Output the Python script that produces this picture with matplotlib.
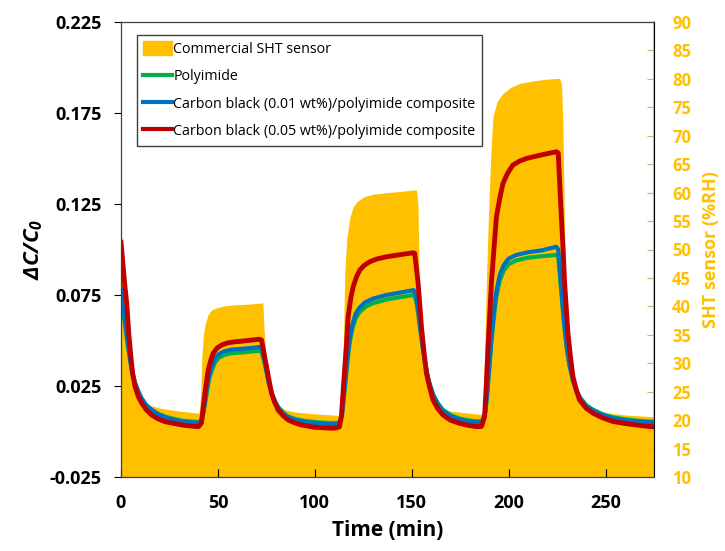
import matplotlib
matplotlib.use("Agg")
import matplotlib.pyplot as plt
from matplotlib.patches import Patch
from matplotlib.lines import Line2D

plt.rcParams["font.family"] = ["Open Sans", "DejaVu Sans"]
plt.rcParams["mathtext.fontset"] = "custom"
plt.rcParams["mathtext.bfit"] = "Open Sans:italic:bold"
plt.rcParams["mathtext.it"] = "Open Sans:italic"
plt.rcParams["mathtext.rm"] = "Open Sans"

# commercial SHT sensor (%RH), right axis
sht_time = [0, 0.5, 1.5, 2.5, 3.5, 5, 7, 10, 15, 20, 30, 40.3,
            41, 41.7, 42.5, 43.5, 45, 46.8, 50, 53.6, 60, 66, 72.5,
            73.2, 73.8, 74.6, 75.8, 77, 78.5, 80.5, 85, 90, 100, 113.5,
            114.2, 114.8, 115.5, 116.5, 118, 119.8, 122, 125.6, 130, 137, 143.8, 152.4,
            153.2, 153.6, 154.1, 155.5, 157, 158.5, 160, 162, 165, 170, 180, 186.2,
            186.7, 187.5, 188.5, 189.3, 190.2, 191, 191.9, 194, 197, 201, 205.7, 212, 218, 226.3,
            227.3, 228, 228.6, 229.2, 230, 231, 232.5, 234, 236, 239, 243, 250, 260, 275]
sht_rh = [55, 50, 42, 36, 32, 28, 25.5, 23.8, 22.6, 22.1, 21.6, 21.2,
          24, 31, 35, 37, 38.6, 39.4, 39.8, 40.1, 40.3, 40.4, 40.6,
          40.6, 36, 32, 28, 25.5, 23.8, 22.6, 21.8, 21.4, 21.1, 20.8,
          23, 35, 46, 52, 55.5, 57.5, 58.5, 59.3, 59.7, 60, 60.2, 60.5,
          58, 50, 38, 35, 30.5, 27, 24.8, 23, 22, 21.6, 21.2, 21.0,
          22.5, 30, 44, 53, 61.7, 68, 73.3, 76, 77.4, 78.5, 79.2, 79.6, 79.9, 80.1,
          79, 72, 58, 46.4, 40, 35, 30, 27, 24.5, 23, 22, 21.3, 20.9, 20.6]

# carbon black (0.05 wt%)/polyimide composite
red_time = [0, 1, 2, 3, 4, 5, 6, 7.2, 9, 10.7, 13, 15.8, 19, 22.7, 27, 31.3, 36, 40,
            41.5, 42.3, 43.3, 44.2, 45, 46.3, 47.6, 49.5, 51.9, 55, 58.8, 64, 68, 70.8, 72.5,
            73.8, 75.1, 76.4, 77.7, 79.3, 81.1, 83.5, 86.3, 89.5, 93.1, 100, 105, 110,
            112.7, 113.7, 114.6, 115.5, 116.4, 117.2, 118.5, 119.8, 121.5, 123.2, 125.5, 128.4,
            132, 137, 143, 150.7, 151.5,
            152.4, 153.3, 154.2, 155, 156.3, 157.6, 159.3, 161, 163.5, 166.1, 170, 174.7, 179, 183.3, 186,
            187.6, 188.5, 189.3, 190.2, 191.1, 192.4, 193.7, 195.4, 197.1, 199.5, 202.2, 205.5,
            209.1, 215, 220, 224.6, 225.6,
            226.4, 227.2, 228.1, 228.9, 229.8, 230.6, 231.9, 233.2, 234.9, 236.6, 240, 243.5,
            248.5, 253.8, 260, 265.8, 270, 275]
red_dc = [0.104, 0.092, 0.080, 0.070, 0.054, 0.042, 0.032, 0.025, 0.019, 0.0156, 0.012, 0.0091,
          0.007, 0.0054, 0.0045, 0.0036, 0.003, 0.0027,
          0.0047, 0.012, 0.021, 0.028, 0.0338, 0.039, 0.043, 0.0458, 0.0475, 0.0487, 0.0493,
          0.0498, 0.0503, 0.0507, 0.0503,
          0.043, 0.0356, 0.028, 0.021, 0.016, 0.0118, 0.0088, 0.0063, 0.0048, 0.0036, 0.0023,
          0.002, 0.0018,
          0.0025, 0.0082, 0.022, 0.0356, 0.049, 0.063, 0.073, 0.0796, 0.085, 0.0887, 0.0913, 0.0933,
          0.0948, 0.096, 0.097, 0.0982, 0.098,
          0.090, 0.0814, 0.069, 0.0576, 0.044, 0.032, 0.024, 0.0173, 0.0125, 0.0091, 0.0062, 0.0045,
          0.0034, 0.0027, 0.0028,
          0.0082, 0.026, 0.0448, 0.063, 0.0814, 0.100, 0.118, 0.128, 0.1364, 0.142, 0.1464, 0.1485,
          0.150, 0.1515, 0.1527, 0.1537, 0.153,
          0.135, 0.118, 0.100, 0.0814, 0.067, 0.054, 0.041, 0.030, 0.023, 0.0173, 0.0128, 0.0101,
          0.0075, 0.0055, 0.0044, 0.0036, 0.003, 0.0026]

# polyimide and carbon black (0.01 wt%) share one time base
pi_time = [0, 1, 2, 3, 4, 5, 6, 7.2, 9, 10.7, 13, 15.8, 19, 22.7, 27, 31.3, 36, 40,
           41.5, 42.5, 43.5, 44.5, 45.5, 47, 48.5, 50.5, 53, 57, 63, 68, 72.3,
           73.5, 74.8, 76.2, 77.7, 79.3, 81.1, 83.5, 86.3, 90, 95, 100, 105, 110,
           112.8, 114, 115, 116, 117, 118, 119.5, 121, 123, 126, 130, 137, 145, 151,
           152.3, 153.3, 154.3, 155.5, 157, 158.7, 161, 163.5, 166, 170, 175, 180, 184,
           186.5, 188, 189, 190, 191, 192.2, 193.5, 195.4, 197.5, 200, 204, 210, 217, 224.6,
           225.6, 226.5, 227.4, 228.3, 229.2, 230.2, 231.5, 233.2, 235, 237, 240, 243.5,
           248.5, 253.8, 260, 266, 270, 275]
cb01_dc = [0.078, 0.070, 0.062, 0.053, 0.045, 0.038, 0.032, 0.027, 0.022, 0.018, 0.0145, 0.0118,
           0.0095, 0.0078, 0.0065, 0.0055, 0.005, 0.0047,
           0.006, 0.011, 0.018, 0.025, 0.031, 0.036, 0.040, 0.0425, 0.044, 0.045, 0.0455, 0.046, 0.0466,
           0.042, 0.035, 0.027, 0.021, 0.0165, 0.013, 0.010, 0.0078, 0.0063, 0.0052, 0.0046, 0.0042, 0.004,
           0.0045, 0.009, 0.020, 0.031, 0.042, 0.051, 0.059, 0.0645, 0.068, 0.071, 0.073, 0.075, 0.0765,
           0.0777,
           0.074, 0.067, 0.058, 0.048, 0.037, 0.028, 0.020, 0.015, 0.0115, 0.0085, 0.0065, 0.0055, 0.005,
           0.0055, 0.011, 0.022, 0.036, 0.050, 0.064, 0.076, 0.086, 0.0915, 0.095, 0.097, 0.0985, 0.0995,
           0.1015,
           0.100, 0.088, 0.076, 0.064, 0.054, 0.045, 0.036, 0.028, 0.022, 0.018, 0.014, 0.0115,
           0.009, 0.0072, 0.0062, 0.0056, 0.0052, 0.005]
pi_dc = [0.074, 0.067, 0.059, 0.051, 0.044, 0.037, 0.031, 0.026, 0.0215, 0.018, 0.0145, 0.012,
         0.0098, 0.0082, 0.007, 0.006, 0.0055, 0.0052,
         0.006, 0.010, 0.016, 0.023, 0.029, 0.034, 0.038, 0.0405, 0.042, 0.043, 0.0435, 0.044, 0.0445,
         0.040, 0.034, 0.027, 0.021, 0.017, 0.0135, 0.0105, 0.0083, 0.0068, 0.0058, 0.0052, 0.0048, 0.0046,
         0.005, 0.009, 0.019, 0.029, 0.040, 0.049, 0.057, 0.062, 0.0655, 0.0685, 0.0705, 0.0725, 0.074,
         0.075,
         0.072, 0.065, 0.057, 0.047, 0.037, 0.028, 0.0205, 0.0155, 0.012, 0.009, 0.007, 0.006, 0.0055,
         0.006, 0.011, 0.021, 0.034, 0.048, 0.061, 0.073, 0.083, 0.0885, 0.092, 0.094, 0.0955, 0.0963,
         0.097,
         0.096, 0.085, 0.074, 0.063, 0.053, 0.044, 0.036, 0.028, 0.0225, 0.0185, 0.0145, 0.012,
         0.0095, 0.0078, 0.0067, 0.006, 0.0056, 0.0054]

labels = ["Commercial SHT sensor", "Polyimide",
          "Carbon black (0.01 wt%)/polyimide composite",
          "Carbon black (0.05 wt%)/polyimide composite"]
gold = "#FFC000"
green = "#00B050"
blue = "#0070C0"
red = "#C00000"

fig = plt.figure(figsize=(7.25, 5.51), dpi=100)
ax = fig.add_axes([121 / 725, 1 - 477 / 551, 533 / 725, 455 / 551])
ax2 = ax.twinx()
ax.set_zorder(ax2.get_zorder() + 1)
ax.patch.set_visible(False)

ax2.fill_between(sht_time, 10, sht_rh, color=gold, lw=0)
ax.plot(pi_time, pi_dc, color=green, lw=3, solid_joinstyle="round")
ax.plot(pi_time, cb01_dc, color=blue, lw=3, solid_joinstyle="round")
ax.plot(red_time, red_dc, color=red, lw=3.5, solid_joinstyle="round")

ax.set_xlim(0, 275)
ax.set_ylim(-0.025, 0.225)
ax2.set_ylim(10, 90)
ax.set_xticks([0, 50, 100, 150, 200, 250])
ax.set_yticks([-0.025, 0.025, 0.075, 0.125, 0.175, 0.225])
ax.set_yticklabels(["-0.025", "0.025", "0.075", "0.125", "0.175", "0.225"])
ax2.set_yticks(range(10, 95, 5))

ax.tick_params(axis="x", direction="in", length=6, pad=12, labelsize=13)
ax.tick_params(axis="y", direction="out", length=5, pad=9, labelsize=13)
for lab in ax.get_xticklabels() + ax.get_yticklabels():
    lab.set_fontweight("bold")
ax2.tick_params(axis="y", direction="in", length=5, pad=13, labelsize=12,
                colors="#C8B27A", labelcolor=gold)
for lab in ax2.get_yticklabels():
    lab.set_fontweight("bold")

for s in ["left", "bottom", "top"]:
    ax.spines[s].set_color("#404040")
ax2.spines["right"].set_color("#C8B27A")
ax2.spines["right"].set_linewidth(1.2)

ax.set_xlabel("Time (min)", fontsize=15, fontweight="bold", labelpad=6)
ax.set_ylabel(r"$\mathbfit{\Delta C/C_0}$", fontsize=16, labelpad=3)
ax2.set_ylabel("SHT sensor (%RH)", fontsize=13, fontweight="bold", color=gold, labelpad=8)

handles = [Patch(facecolor=gold, edgecolor=gold),
           Line2D([], [], color=green, lw=3),
           Line2D([], [], color=blue, lw=3),
           Line2D([], [], color=red, lw=3)]
leg = ax.legend(handles, labels, loc="upper left", bbox_to_anchor=(0.03, 0.972),
                borderaxespad=0, fontsize=10.3, frameon=True, fancybox=False,
                edgecolor="#404040", framealpha=1, handlelength=2.0, handleheight=1.1,
                handletextpad=0.1, labelspacing=0.82, borderpad=0.45)
leg.get_frame().set_linewidth(1)

fig.savefig("out.png", dpi=100)
